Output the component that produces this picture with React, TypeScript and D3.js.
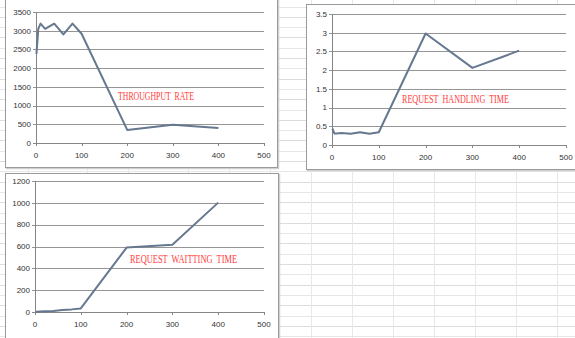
import React from "react";
import * as d3 from "d3";

const xValues = [1, 5, 10, 20, 40, 60, 80, 100, 200, 300, 400];
const throughput = [2380, 3050, 3190, 3050, 3190, 2900, 3190, 2920, 350, 490, 400];
const handlingTime = [0.44, 0.31, 0.31, 0.32, 0.3, 0.34, 0.3, 0.34, 2.98, 2.06, 2.52];
const waitingTime = [2, 3, 4, 6, 10, 18, 24, 33, 590, 617, 1002];
const xTicks = [0, 100, 200, 300, 400, 500];
const throughputTicks = [0, 500, 1000, 1500, 2000, 2500, 3000, 3500];
const handlingTicks = [0, 0.5, 1, 1.5, 2, 2.5, 3, 3.5];
const waitingTicks = [0, 200, 400, 600, 800, 1000, 1200];

type ChartProps = {
  box: [number, number, number, number];
  plot: { x0: number; x1: number; y0: number; y1: number };
  values: number[];
  yTicks: number[];
  yMax: number;
  title: string;
  titlePos: [number, number, number];
};

function Chart({ box, plot, values, yTicks, yMax, title, titlePos }: ChartProps) {
  const x = d3.scaleLinear().domain([0, 500]).range([plot.x0, plot.x1]);
  const y = d3.scaleLinear().domain([0, yMax]).range([plot.y0, plot.y1]);
  const line = d3
    .line<number>()
    .x((_, i) => x(xValues[i]))
    .y((d) => y(d));
  const fmt = (v: number) => String(v);
  return (
    <g>
      <rect x={box[0] + 1.5} y={box[1] + 1.5} width={box[2]} height={box[3]} fill="none" stroke="#d0d0d0" strokeWidth={1.5} />
      <rect x={box[0] + 0.5} y={box[1] + 0.5} width={box[2]} height={box[3]} fill="#fff" stroke="#9a9a9a" strokeWidth={1} />
      {yTicks.map((t) => (
        <g key={"g" + t}>
          <line x1={plot.x0 - 3} x2={plot.x1} y1={Math.round(y(t)) + 0.5} y2={Math.round(y(t)) + 0.5} stroke={t === 0 ? "#868686" : "#959595"} strokeWidth={1} />
          <text x={plot.x0 - 5} y={y(t)} dy="0.35em" textAnchor="end" fontSize={8} fill="#333" fontFamily="Liberation Sans, Arial, sans-serif">
            {fmt(t)}
          </text>
        </g>
      ))}
      <line x1={plot.x0 + 0.5} x2={plot.x0 + 0.5} y1={plot.y1} y2={plot.y0 + 3} stroke="#868686" />
      {xTicks.map((t) => (
        <g key={"x" + t}>
          <line x1={Math.round(x(t)) + 0.5} x2={Math.round(x(t)) + 0.5} y1={plot.y0} y2={plot.y0 + 3} stroke="#868686" />
          <text x={x(t)} y={plot.y0 + 12} dy="0.35em" textAnchor="middle" fontSize={8} fill="#333" fontFamily="Liberation Sans, Arial, sans-serif">
            {t}
          </text>
        </g>
      ))}
      <path d={line(values) || ""} fill="none" stroke="#66788f" strokeWidth={2} strokeLinejoin="round" />
      <text x={titlePos[0]} y={titlePos[1]} dy="0.35em" fontSize={11.5} fill="#ff3b3b" fontFamily="Liberation Serif, DejaVu Serif, serif" textLength={titlePos[2]} lengthAdjust="spacingAndGlyphs" style={{ whiteSpace: "pre" }}>
        {title}
      </text>
    </g>
  );
}

export default function App() {
  const hLines = d3.range(0, 34).map((i) => 6.5 + i * 10.3);
  const vLinesRight = [311, 352, 393, 434, 475, 516, 557];
  const vLinesLeft = [28, 87, 128, 188, 229, 270];
  return (
    <svg width={575} height={338} style={{ position: "absolute", left: 0, top: 0, background: "#fff" }}>
      <rect x={0} y={0} width={575} height={338} fill="#fff" />
      {hLines.map((yy, i) => (
        <line key={"h" + i} x1={0} x2={575} y1={Math.round(yy) + 0.5} y2={Math.round(yy) + 0.5} stroke={i % 2 ? "#dcdcdc" : "#e6e6e6"} />
      ))}
      {vLinesRight.map((xx) => (
        <line key={"vr" + xx} x1={xx + 0.5} x2={xx + 0.5} y1={0} y2={338} stroke="#e8e8e8" />
      ))}
      {vLinesLeft.map((xx) => (
        <line key={"vl" + xx} x1={xx + 0.5} x2={xx + 0.5} y1={0} y2={338} stroke="#e8e8e8" />
      ))}
      <Chart
        box={[5, -2, 272, 169]}
        plot={{ x0: 36, x1: 264, y0: 143, y1: 12 }}
        values={throughput}
        yTicks={throughputTicks}
        yMax={3500}
        title="THROUGHPUT  RATE"
        titlePos={[118, 96, 76]}
      />
      <Chart
        box={[306, 4, 300, 165]}
        plot={{ x0: 332, x1: 566, y0: 145, y1: 14 }}
        values={handlingTime}
        yTicks={handlingTicks}
        yMax={3.5}
        title="REQUEST  HANDLING  TIME"
        titlePos={[402, 99, 107]}
      />
      <Chart
        box={[5, 173, 273, 166]}
        plot={{ x0: 35, x1: 264, y0: 312, y1: 181 }}
        values={waitingTime}
        yTicks={waitingTicks}
        yMax={1200}
        title="REQUEST  WAITTING  TIME"
        titlePos={[130, 259, 107]}
      />
    </svg>
  );
}
